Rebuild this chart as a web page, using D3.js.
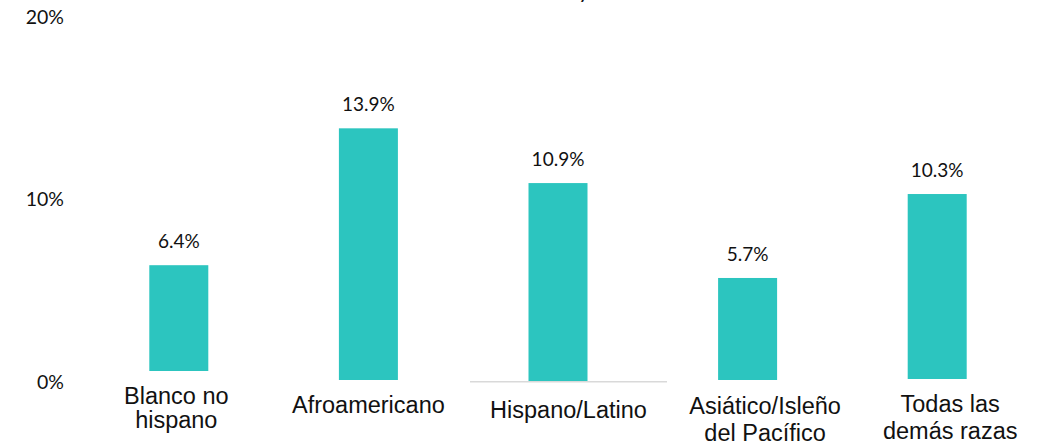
<!DOCTYPE html>
<html>
<head>
<meta charset="utf-8">
<script src="https://cdn.jsdelivr.net/npm/d3@7"></script>
<style>
  html, body { margin: 0; padding: 0; background: #fff; }
  svg { display: block; }
</style>
</head>
<body>
<svg id="chart" width="1048" height="448"></svg>
<script>
// ---- data ----
const categories = ["Blanco no hispano", "Afroamericano", "Hispano/Latino", "Asiático/Isleño del Pacífico", "Todas las demás razas"];
const categoryLines = [["Blanco no", "hispano"], ["Afroamericano"], ["Hispano/Latino"], ["Asiático/Isleño", "del Pacífico"], ["Todas las", "demás razas"]];
const values = [6.4, 13.9, 10.9, 5.7, 10.3];
const yTicks = [0, 10, 20];
const yTickLabels = ["0%", "10%", "20%"];
const valueLabels = ["6.4%", "13.9%", "10.9%", "5.7%", "10.3%"];

// ---- layout (not data) ----
const barColor = "#2cc5bf";
const textColor = "#111111";
const numFont = "Lato, 'Open Sans', sans-serif";
const catFont = "'Liberation Sans', Arial, sans-serif";
const barWidth = 59;
// per-label nudges to mimic the reference's irregular placement
const labelLayout = [
  { dx: -2.5, base: 404, lh: 24 },
  { dx: 0,    base: 413, lh: 25 },
  { dx: 10.5, base: 418, lh: 25 },
  { dx: 17.5, base: 414, lh: 26.5 },
  { dx: 13,   base: 412, lh: 26.5 }
];
const barBottomNudge = [-11, -2, -1, -2, -3];

const svg = d3.select("#chart");

const x = d3.scalePoint().domain(categories).range([84, 1032]).padding(0.5);
const y = d3.scaleLinear().domain([0, 20]).range([382, 17]);

// clipped title remnant (the reference shows only the tail of a cut-off title glyph)
svg.append("text")
  .attr("x", 584).attr("y", -2.5)
  .attr("text-anchor", "middle")
  .attr("font-family", numFont)
  .attr("font-size", 22)
  .attr("fill", textColor)
  .text("y");

// y axis
const yAxis = d3.axisLeft(y)
  .tickValues(yTicks)
  .tickFormat((d, i) => yTickLabels[i])
  .tickSize(0)
  .tickPadding(0);
const gy = svg.append("g").attr("transform", "translate(64,0)").call(yAxis);
gy.select(".domain").remove();
gy.selectAll("text")
  .attr("font-family", numFont)
  .attr("font-size", 19.5)
  .attr("fill", textColor);

// grey baseline segment under Hispano/Latino
const hi = categories.indexOf("Hispano/Latino");
const hx = x(categories[hi]) + labelLayout[hi].dx;
svg.append("line")
  .attr("x1", hx - 98.5).attr("x2", hx + 98.5)
  .attr("y1", y(0) - 0.3).attr("y2", y(0) - 0.3)
  .attr("stroke", "#d9d9d9")
  .attr("stroke-width", 1.6);

// bars
svg.append("g").selectAll("rect")
  .data(values)
  .join("rect")
  .attr("x", (d, i) => x(categories[i]) - barWidth / 2)
  .attr("y", d => y(d))
  .attr("width", barWidth)
  .attr("height", (d, i) => y(0) + barBottomNudge[i] - y(d))
  .attr("fill", barColor);

// value labels
svg.append("g").selectAll("text")
  .data(values)
  .join("text")
  .attr("x", (d, i) => x(categories[i]))
  .attr("y", d => y(d) - 17)
  .attr("text-anchor", "middle")
  .attr("font-family", numFont)
  .attr("font-size", 19)
  .attr("fill", textColor)
  .text((d, i) => valueLabels[i]);

// category labels
const cat = svg.append("g").selectAll("text")
  .data(categories)
  .join("text")
  .attr("text-anchor", "middle")
  .attr("font-family", catFont)
  .attr("font-size", 23.5)
  .attr("fill", textColor);
cat.each(function (c, i) {
  const t = d3.select(this);
  const L = labelLayout[i];
  categoryLines[i].forEach((line, j) => {
    t.append("tspan")
      .attr("x", x(c) + L.dx)
      .attr("y", L.base + j * L.lh)
      .text(line);
  });
});
</script>
</body>
</html>
